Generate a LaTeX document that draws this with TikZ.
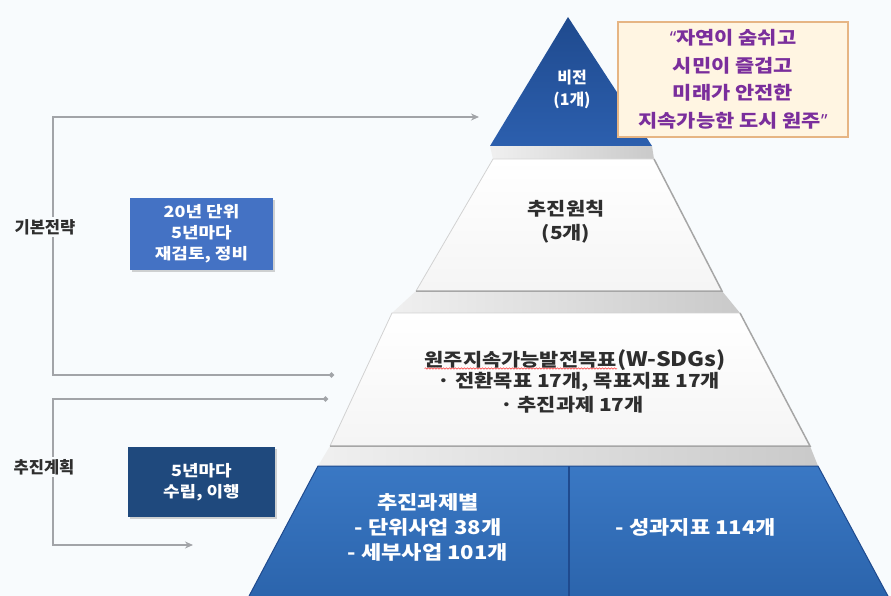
\documentclass[tikz,border=0pt]{standalone}
\usepackage{fontspec}
\newfontfamily\kr{Noto Sans CJK KR}
\newfontfamily\krw{Noto Sans CJK KR}[FakeStretch=1.16]
\newfontfamily\latq{Noto Sans}
\usetikzlibrary{arrows.meta,shadows,decorations.pathmorphing,calc}
\definecolor{bgc}{HTML}{F8FBFD}
\definecolor{navy}{HTML}{2C5FAE}
\definecolor{navyd}{HTML}{1F4A8E}
\definecolor{midblue}{HTML}{3A78C4}
\definecolor{midblued}{HTML}{2B64AC}
\definecolor{boxa}{HTML}{4472C4}
\definecolor{boxb}{HTML}{1F497D}
\definecolor{quotefill}{HTML}{FFF5E2}
\definecolor{quoteline}{HTML}{E6B584}
\definecolor{purp}{HTML}{7A2E9C}
\definecolor{txt}{HTML}{2E2E2E}
\definecolor{linkc}{HTML}{A2A4A8}
\tikzset{
  link/.style={draw=linkc, line width=1.6pt},
  tipa/.tip={Stealth[length=8pt,width=7pt]},
  tipb/.tip={Circle[length=5pt]},
  band/.style={left color=gray!12, right color=gray!42},
  whitelayer/.style={top color=white, bottom color=gray!8},
  ptext/.style={font=\krw\bfseries\fontsize{18}{24}\selectfont, text=txt, align=center},
  wtext/.style={font=\krw\bfseries\fontsize{19}{25}\selectfont, text=white, align=center},
  lab/.style={font=\kr\bfseries\fontsize{16.5}{20}\selectfont, text=txt, fill=bgc, inner sep=2pt},
  sidebox/.style={font=\krw\bfseries\fontsize{15.5}{21}\selectfont, text=white, align=center,
     drop shadow={shadow xshift=1.5pt, shadow yshift=-2pt, opacity=0.35}},
  quotebox/.style={fill=quotefill, draw=quoteline, line width=1.2pt,
     font=\krw\bfseries\fontsize{18}{27.5}\selectfont, text=purp, align=center,
     minimum width=230pt, minimum height=115pt}
}
\begin{document}
\begin{tikzpicture}[x=1pt,y=-1pt]
\fill[bgc] (0,0) rectangle (891,596);
\useasboundingbox (0,0) rectangle (891,596);

% bands between layers
\shade[band] (490,146) -- (652,146) -- (654,159) -- (493,159) -- cycle;
\shade[band] (416,291) -- (722,291) -- (740,313) -- (392,313) -- cycle;
\shade[band] (330,446) -- (810,446) -- (818,466) -- (318,466) -- cycle;

% vision triangle
\shade[top color=navyd, bottom color=navy] (568,17) -- (652,146) -- (490,146) -- cycle;
\node[font=\kr\bfseries\fontsize{16}{22}\selectfont, text=white, align=center] (vision) at (572,89) {비전\\(1개)};

% quote box
\node[quotebox] (quote) at (733,79.5) {{\latq“}자연이 숨쉬고\\시민이 즐겁고\\미래가 안전한\\지속가능한 도시 원주{\latq”}};

% layer 2
\shade[whitelayer] (493,159) -- (654,159) -- (722,291) -- (416,291) -- cycle;
\draw[gray!35, line width=0.8pt] (416,291) -- (493,159) -- (654,159);
\draw[gray!70, line width=1.5pt] (654,159) -- (722,291) -- (416,291);
\node[ptext] (principle) at (566,222) {추진원칙\\(5개)};

% layer 3
\shade[whitelayer] (392,313) -- (740,313) -- (810,446) -- (330,446) -- cycle;
\draw[gray!35, line width=0.8pt] (330,446) -- (392,313) -- (740,313);
\draw[gray!70, line width=1.5pt] (740,313) -- (810,446) -- (330,446);
\node[ptext, anchor=base east, inner sep=0pt] (wsdgk) at (617,366) {원주지속가능발전목표};
\node[ptext, anchor=base west, inner sep=0pt, font=\krw\bfseries\fontsize{20}{24}\selectfont] (wsdgl) at (wsdgk.base east) {(W-SDGs)};
\draw[red!80, line width=0.5pt, decorate, decoration={snake, amplitude=0.7pt, segment length=3pt}]
  ([yshift=-2.5pt]wsdgk.base west) -- ([yshift=-2.5pt]wsdgk.base east);
\node[ptext] (goals) at (579,382) {· 전환목표 17개, 목표지표 17개};
\node[ptext] (tasks) at (572,405) {· 추진과제 17개};

% layer 4
\shade[top color=midblue, bottom color=midblued] (318,466) -- (818,466) -- (889,598) -- (248,598) -- cycle;
\draw[navyd, line width=1pt] (248,598) -- (318,466) -- (818,466) -- (889,598);
\draw[navyd, line width=1.5pt] (569,466) -- (569,598);
\node[wtext] (projects) at (428,527) {추진과제별\\- 단위사업 38개\\- 세부사업 101개};
\node[wtext] (indic) at (696,527) {- 성과지표 114개};

% connectors
\coordinate (c1a) at (479,117);
\coordinate (c1b) at (53,117);
\coordinate (c1c) at (53,375);
\coordinate (c1d) at (334,375);
\draw[link, tipa-tipb] (c1a) -- (c1b) -- (c1c) -- (c1d);
\coordinate (c2a) at (328,399);
\coordinate (c2b) at (53,399);
\coordinate (c2c) at (53,545);
\coordinate (c2d) at (193,545);
\draw[link, tipb-tipa] (c2a) -- (c2b) -- (c2c) -- (c2d);

% labels
\node[lab] (strategy) at (45,227) {기본전략};
\node[lab] (plan) at (44,467) {추진계획};

% side boxes
\node[sidebox, fill=boxa, minimum width=143pt, minimum height=72pt] (cycle1) at (201.5,234) {20년 단위\\5년마다\\재검토, 정비};
\node[sidebox, fill=boxb, minimum width=147pt, minimum height=70pt] (cycle2) at (201.5,482) {5년마다\\수립, 이행};
\end{tikzpicture}
\end{document}
